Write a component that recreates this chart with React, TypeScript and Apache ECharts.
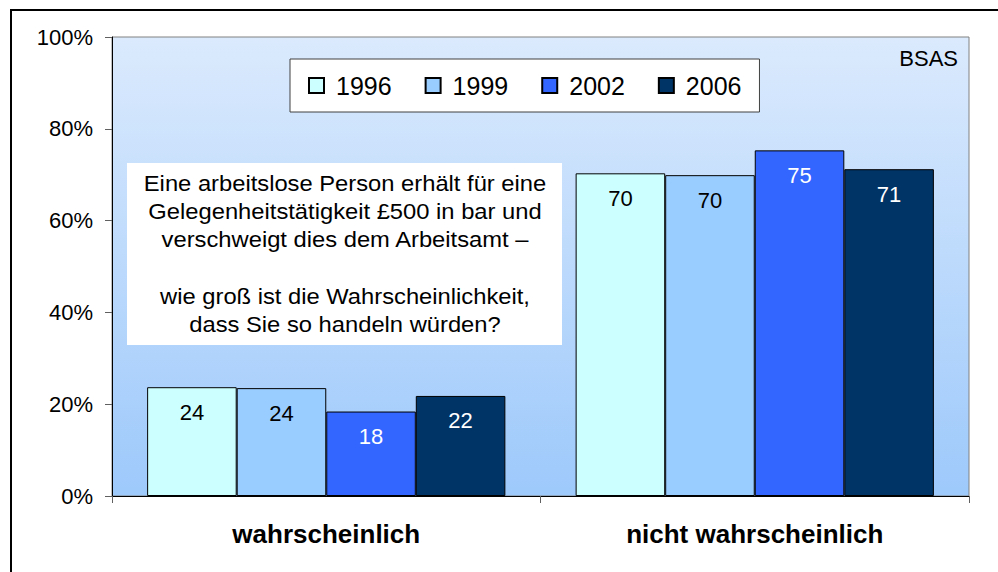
import React, { useEffect, useRef } from "react";
import * as echarts from "echarts";

const categories = ["wahrscheinlich", "nicht wahrscheinlich"];
const years = ["1996", "1999", "2002", "2006"];
const values1996 = [23.7, 70.3];
const values1999 = [23.5, 69.9];
const values2002 = [18.4, 75.3];
const values2006 = [21.8, 71.2];
const yTicks = [0, 20, 40, 60, 80, 100];
const questionLines = [
  "Eine arbeitslose Person erhält für eine",
  "Gelegenheitstätigkeit £500 in bar und",
  "verschweigt dies dem Arbeitsamt –",
  "",
  "wie groß ist die Wahrscheinlichkeit,",
  "dass Sie so handeln würden?",
];
const sourceLabel = "BSAS";

const FONT = '"Liberation Sans", Arial, sans-serif';
const colors = ["#ccffff", "#99ccff", "#3366ff", "#003366"];
const labelColors = ["#000000", "#000000", "#ffffff", "#ffffff"];
const seriesValues = [values1996, values1999, values2002, values2006];

export default function App() {
  const ref = useRef<HTMLDivElement>(null);
  useEffect(() => {
    if (!ref.current) return;
    const chart = echarts.init(ref.current, undefined, { renderer: "svg" });
    chart.setOption({
      animation: false,
      backgroundColor: "#ffffff",
      textStyle: { fontFamily: FONT },
      grid: {
        left: 112,
        right: 29,
        top: 37,
        bottom: 76,
        show: true,
        borderColor: "#808080",
        borderWidth: 1,
        backgroundColor: {
          type: "linear",
          x: 0,
          y: 0,
          x2: 0,
          y2: 1,
          colorStops: [
            { offset: 0, color: "#dbeafd" },
            { offset: 1, color: "#9dc9fb" },
          ],
        },
      },
      legend: {
        data: years,
        left: 290,
        top: 59,
        padding: [14, 18, 14, 18],
        itemWidth: 15,
        itemHeight: 15,
        itemGap: 33,
        backgroundColor: "#ffffff",
        borderColor: "#404040",
        borderWidth: 1,
        icon: "rect",
        textStyle: {
          fontSize: 25,
          color: "#000000",
          fontFamily: FONT,
          padding: [0, 0, 0, 7],
        },
      },
      xAxis: {
        type: "category",
        data: categories,
        axisLine: { show: true, lineStyle: { color: "#000000", width: 1 } },
        axisTick: { show: true, length: 7, lineStyle: { color: "#606060" } },
        axisLabel: {
          fontSize: 26,
          fontWeight: "bold",
          color: "#000000",
          margin: 25,
          fontFamily: FONT,
        },
      },
      yAxis: {
        type: "value",
        min: 0,
        max: 100,
        interval: 20,
        axisLine: { show: true, lineStyle: { color: "#000000", width: 1 } },
        axisTick: { show: true, length: 7, lineStyle: { color: "#606060" } },
        splitLine: { show: false },
        axisLabel: {
          fontSize: 22,
          color: "#000000",
          margin: 19,
          fontFamily: FONT,
          formatter: (v: number) => (yTicks.includes(v) ? `${v}%` : ""),
        },
      },
      series: years.map((y, i) => ({
        name: y,
        type: "bar",
        data: seriesValues[i],
        barGap: "0%",
        barCategoryGap: "16.4%",
        itemStyle: {
          color: colors[i],
          borderColor: "#000000",
          borderWidth: 1,
        },
        label: {
          show: true,
          position: "insideTop",
          distance: 14,
          fontSize: 22,
          color: labelColors[i],
          fontFamily: FONT,
          formatter: (p: any) => `${Math.round(p.value)}`,
        },
      })),
      graphic: [
        {
          type: "rect",
          shape: { x: 11, y: 10, width: 1100, height: 700 },
          style: { fill: "none", stroke: "#000000", lineWidth: 2 },
          silent: true,
          z: 100,
        },
        {
          type: "rect",
          shape: { x: 127, y: 163, width: 435, height: 182 },
          style: { fill: "#ffffff" },
          z: 50,
        },
        {
          type: "text",
          x: 345,
          y: 169,
          scaleX: 1.08,
          z: 51,
          style: {
            text: questionLines.join("\n"),
            align: "center",
            verticalAlign: "top",
            fontSize: 22,
            lineHeight: 28.3,
            fill: "#000000",
            fontFamily: FONT,
          },
        },
        {
          type: "text",
          x: 958,
          y: 47,
          z: 51,
          style: {
            text: sourceLabel,
            align: "right",
            verticalAlign: "top",
            fontSize: 22,
            fill: "#000000",
            fontFamily: FONT,
          },
        },
      ],
    });
    return () => chart.dispose();
  }, []);
  return (
    <div
      ref={ref}
      style={{ position: "fixed", left: 0, top: 0, width: 998, height: 572 }}
    />
  );
}
